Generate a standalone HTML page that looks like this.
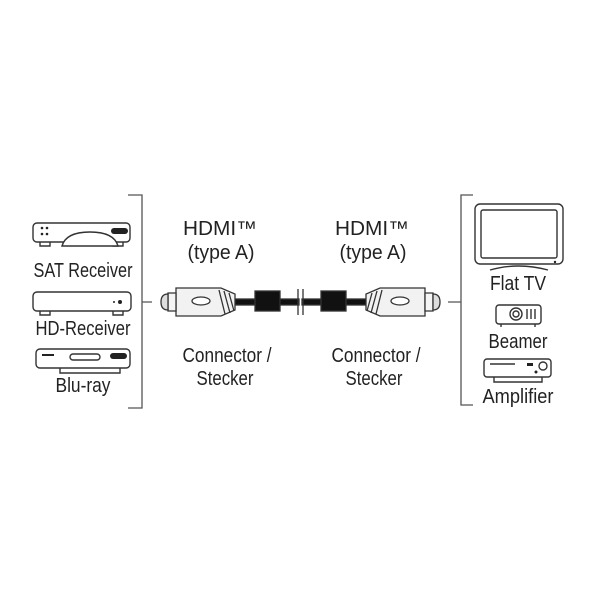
<!DOCTYPE html>
<html><head><style>
body{margin:0;background:#fff}
svg text{font-family:"Liberation Sans",sans-serif;font-size:20px;fill:#222;text-anchor:middle}
</style></head><body>
<svg width="600" height="600" viewBox="0 0 600 600" xmlns="http://www.w3.org/2000/svg">
<g fill="none" stroke="#555" stroke-width="1.3">
<path d="M128 195H142V408H128M142 302H152"/>
<path d="M473 195H461V405H473M461 302H448"/>
</g>
<g fill="none" stroke="#333" stroke-width="1.4">
<rect x="33" y="223" width="97" height="19" rx="4"/>
<path d="M40 242v4h10v-4M113 242v4h10v-4"/>
<path d="M62 246q4-14 28-14q24 0 28 14z" fill="#fff"/>
<rect x="33" y="292" width="98" height="19" rx="4"/>
<path d="M40 311v4h10v-4M113 311v4h10v-4"/>
<rect x="36" y="349" width="94" height="19" rx="4"/>
<path d="M60 368v5h60v-5"/>
<rect x="70" y="354" width="30" height="6" rx="3"/>
</g>
<g fill="#222">
<circle cx="42" cy="228" r="1.3"/><circle cx="47" cy="228" r="1.3"/><circle cx="42" cy="234" r="1.3"/><circle cx="47" cy="234" r="1.3"/>
<rect x="111" y="228" width="17" height="6" rx="3"/>
<circle cx="120" cy="302" r="2"/><circle cx="114" cy="302" r="1"/>
<rect x="110" y="353" width="17" height="6" rx="3"/>
<rect x="42" y="354" width="12" height="2"/>
</g>
<text x="83" y="277" textLength="99" lengthAdjust="spacingAndGlyphs">SAT Receiver</text>
<text x="83" y="335" textLength="95" lengthAdjust="spacingAndGlyphs">HD-Receiver</text>
<text x="83" y="392" textLength="55" lengthAdjust="spacingAndGlyphs">Blu-ray</text>
<g stroke="#333" stroke-width="1.3">
<rect x="233" y="299" width="66" height="6" fill="#111"/>
<rect x="302" y="299" width="66" height="6" fill="#111"/>
<rect x="255" y="291" width="25" height="20" fill="#111"/>
<rect x="321" y="291" width="25" height="20" fill="#111"/>
<path d="M298 289v26M303 289v26" fill="none"/>
<path d="M176 288h45l14 6v16l-14 6h-45z" fill="#f2f2f2"/>
<path d="M425 288h-45l-14 6v16l14 6h45z" fill="#f2f2f2"/>
<path d="M168 293h8v18h-8zM433 293h-8v18h8z" fill="#f4f4f4"/>
<path d="M168 294q-7 0-7 8q0 8 7 8zM433 294q7 0 7 8q0 8-7 8z" fill="#ddd"/>
<ellipse cx="201" cy="301" rx="9" ry="4" fill="#fff"/>
<ellipse cx="400" cy="301" rx="9" ry="4" fill="#fff"/>
<path d="M219 290l6 24M224 291l6 22M229 293l5 18M382 290l-6 24M377 291l-6 22M372 293l-5 18" fill="none"/>
</g>
<text x="220" y="235" textLength="74" lengthAdjust="spacingAndGlyphs">HDMI™</text>
<text x="221" y="259" textLength="67" lengthAdjust="spacingAndGlyphs">(type A)</text>
<text x="372" y="235" textLength="74" lengthAdjust="spacingAndGlyphs">HDMI™</text>
<text x="373" y="259" textLength="67" lengthAdjust="spacingAndGlyphs">(type A)</text>
<text x="227" y="362" textLength="89" lengthAdjust="spacingAndGlyphs">Connector /</text>
<text x="225" y="385" textLength="57" lengthAdjust="spacingAndGlyphs">Stecker</text>
<text x="376" y="362" textLength="89" lengthAdjust="spacingAndGlyphs">Connector /</text>
<text x="374" y="385" textLength="57" lengthAdjust="spacingAndGlyphs">Stecker</text>
<g fill="none" stroke="#333" stroke-width="1.4">
<rect x="475" y="204" width="88" height="60" rx="5"/>
<rect x="481" y="210" width="76" height="48" rx="2"/>
<path d="M490 270q28-8 58 0"/>
<rect x="496" y="305" width="45" height="19" rx="3"/>
<circle cx="516" cy="314" r="6"/><circle cx="516" cy="314" r="3"/>
<path d="M527 309v10M531 309v10M535 309v10M501 324v3M535 324v3"/>
<rect x="484" y="359" width="67" height="18" rx="3"/>
<path d="M494 377v5h48v-5"/>
<circle cx="543" cy="366" r="4"/>
<path d="M490 364h25"/>
</g>
<rect x="527" y="363" width="6" height="3" fill="#222"/>
<circle cx="536" cy="372" r="1.5" fill="#222"/>
<circle cx="555" cy="262" r="1.2" fill="#222"/>
<text x="518" y="290" textLength="56" lengthAdjust="spacingAndGlyphs">Flat TV</text>
<text x="518" y="348" textLength="59" lengthAdjust="spacingAndGlyphs">Beamer</text>
<text x="518" y="403" textLength="71" lengthAdjust="spacingAndGlyphs">Amplifier</text>
</svg>
</body></html>
